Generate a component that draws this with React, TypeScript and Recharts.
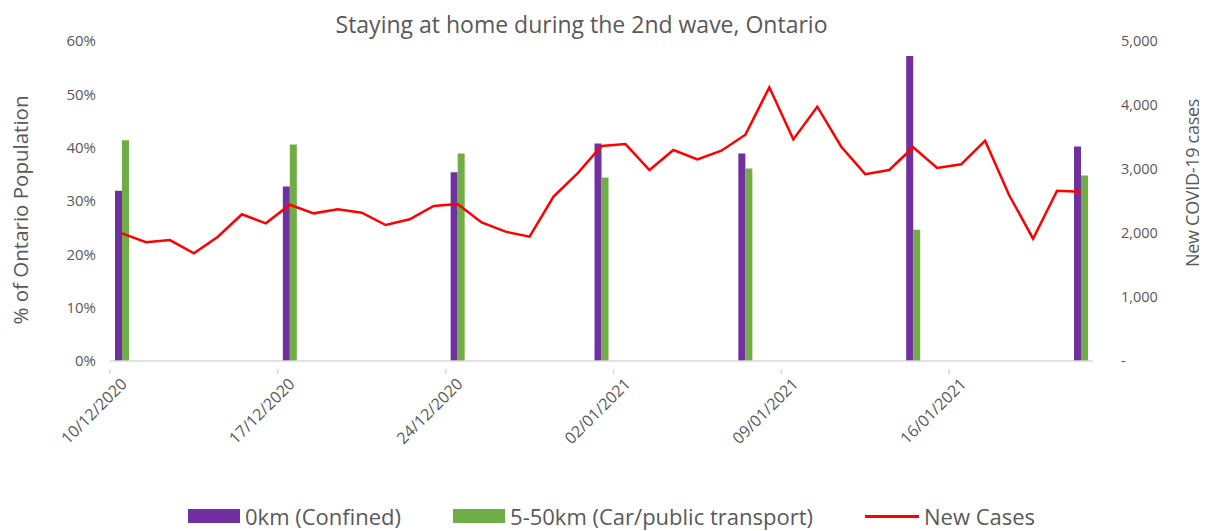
import { ComposedChart, Bar, Line, XAxis, YAxis, Legend } from 'recharts';

// daily report dates (no reports on 25/12 and 01/01)
const dates = [
  '10/12/2020', '11/12/2020', '12/12/2020', '13/12/2020', '14/12/2020', '15/12/2020', '16/12/2020',
  '17/12/2020', '18/12/2020', '19/12/2020', '20/12/2020', '21/12/2020', '22/12/2020', '23/12/2020',
  '24/12/2020', '26/12/2020', '27/12/2020', '28/12/2020', '29/12/2020', '30/12/2020', '31/12/2020',
  '02/01/2021', '03/01/2021', '04/01/2021', '05/01/2021', '06/01/2021', '07/01/2021', '08/01/2021',
  '09/01/2021', '10/01/2021', '11/01/2021', '12/01/2021', '13/01/2021', '14/01/2021', '15/01/2021',
  '16/01/2021', '17/01/2021', '18/01/2021', '19/01/2021', '20/01/2021', '21/01/2021',
];

const newCases = [
  1995, 1855, 1890, 1683, 1942, 2292, 2151, 2442, 2307, 2370, 2317, 2125, 2214, 2422,
  2453, 2165, 2021, 1943, 2568, 2932, 3359, 3390, 2984, 3297, 3151, 3286, 3536, 4276,
  3463, 3973, 3348, 2920, 2984, 3339, 3016, 3073, 3442, 2594, 1911, 2661, 2645,
];

// weekly mobility survey
const surveyDates = ['10/12/2020', '17/12/2020', '24/12/2020', '31/12/2020', '07/01/2021', '14/01/2021', '21/01/2021'];
const confined = [31.9, 32.7, 35.4, 40.8, 38.9, 57.2, 40.2];
const carTransport = [41.4, 40.6, 38.9, 34.4, 36.1, 24.6, 34.8];

const pctTicks = [0, 10, 20, 30, 40, 50, 60];
const caseTicks = [0, 1000, 2000, 3000, 4000, 5000];

const PURPLE = '#7030A0';
const GREEN = '#70AD47';
const RED = '#FF0000';
const TEXT = '#595959';
const AXIS = '#D9D9D9';
const FONT = '"Open Sans", sans-serif';

const data = dates.map((d, i) => {
  const k = surveyDates.indexOf(d);
  return {
    date: d,
    confined: k >= 0 ? confined[k] : null,
    travel: k >= 0 ? carTransport[k] : null,
    cases: newCases[i],
  };
});

const fmtCases = (v: number) => (v === 0 ? '-' : v.toLocaleString('en-US'));

function DateTick(props: any) {
  const { x, y, payload } = props;
  return (
    <g transform={`translate(${x},${y})`}>
      <line x1={-12} x2={-12} y1={0} y2={5} stroke={AXIS} strokeWidth={1.5} />
      <text
        transform="translate(6,16) rotate(-45)"
        textAnchor="end"
        fill={TEXT}
        fontSize={16}
        fontFamily={FONT}
      >
        {payload.value}
      </text>
    </g>
  );
}

function LegendBox() {
  const item = { display: 'flex', alignItems: 'center', gap: 5 } as const;
  return (
    <div
      style={{
        display: 'flex',
        alignItems: 'center',
        gap: 52,
        paddingLeft: 180,
        height: 30,
        fontFamily: FONT,
        fontSize: 22,
        color: TEXT,
      }}
    >
      <span style={item}>
        <span style={{ width: 52, height: 14, background: PURPLE, display: 'inline-block' }} />
        0km (Confined)
      </span>
      <span style={item}>
        <span style={{ width: 52, height: 14, background: GREEN, display: 'inline-block' }} />
        5-50km (Car/public transport)
      </span>
      <span style={item}>
        <span style={{ width: 54, height: 3, background: RED, display: 'inline-block' }} />
        New Cases
      </span>
    </div>
  );
}

export default function App() {
  return (
    <div style={{ position: 'relative', width: 1191, height: 523, fontFamily: FONT }}>
      <div
        style={{
          position: 'absolute',
          top: 0,
          left: 0,
          width: 1147,
          textAlign: 'center',
          fontSize: 23,
          color: TEXT,
        }}
      >
        Staying at home during the 2nd wave, Ontario
      </div>
      <div
        style={{
          position: 'absolute',
          left: 12,
          top: 202,
          transform: 'translate(-50%, -50%) rotate(-90deg)',
          whiteSpace: 'nowrap',
          fontSize: 20.5,
          color: TEXT,
        }}
      >
        % of Ontario Population
      </div>
      <div
        style={{
          position: 'absolute',
          left: 1184,
          top: 175,
          transform: 'translate(-50%, -50%) rotate(-90deg)',
          whiteSpace: 'nowrap',
          fontSize: 18,
          letterSpacing: -0.3,
          color: TEXT,
        }}
      >
        New COVID-19 cases
      </div>
      <ComposedChart
        width={1191}
        height={523}
        data={data}
        margin={{ top: 33, right: 16, left: 22, bottom: 0 }}
        barSize={7}
        barGap={0}
      >
        <XAxis
          dataKey="date"
          interval={6}
          tick={<DateTick />}
          tickLine={false}
          axisLine={{ stroke: AXIS, strokeWidth: 1.5 }}
          height={140}
        />
        <YAxis
          yAxisId="pct"
          domain={[0, 60]}
          ticks={pctTicks}
          tickFormatter={(v: number) => `${v}%`}
          axisLine={false}
          tickLine={false}
          width={80}
          tickMargin={8}
          tick={{ fill: TEXT, fontSize: 15, fontFamily: FONT }}
        />
        <YAxis
          yAxisId="cases"
          orientation="right"
          domain={[0, 5000]}
          ticks={caseTicks}
          tickFormatter={fmtCases}
          axisLine={false}
          tickLine={false}
          width={90}
          tickMargin={22}
          tick={{ fill: TEXT, fontSize: 14.5, fontFamily: FONT, textAnchor: 'start' }}
        />
        <Legend verticalAlign="bottom" content={<LegendBox />} wrapperStyle={{ left: 0, width: 1191 }} />
        <Bar yAxisId="pct" dataKey="confined" name="0km (Confined)" fill={PURPLE} isAnimationActive={false} />
        <Bar yAxisId="pct" dataKey="travel" name="5-50km (Car/public transport)" fill={GREEN} isAnimationActive={false} />
        <Line
          yAxisId="cases"
          type="linear"
          dataKey="cases"
          name="New Cases"
          stroke={RED}
          strokeWidth={2.5}
          dot={false}
          isAnimationActive={false}
        />
      </ComposedChart>
    </div>
  );
}
